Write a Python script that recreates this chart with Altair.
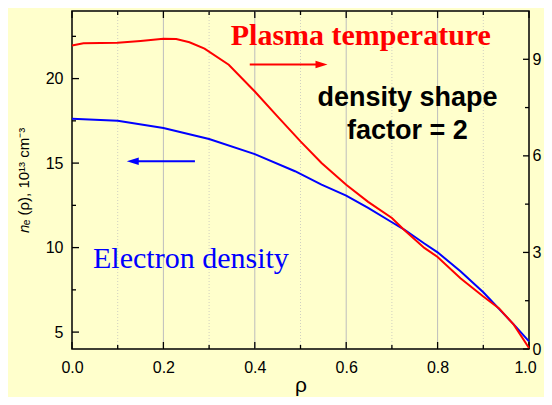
import altair as alt
import pandas as pd

# ---- data ----
rho_temp = [0.0, 0.025, 0.10, 0.15, 0.20, 0.228, 0.257, 0.29, 0.343, 0.40, 0.45, 0.50,
            0.546, 0.60, 0.648, 0.70, 0.727, 0.771, 0.80, 0.85, 0.90, 0.934, 0.967, 1.0]
temp_kev = [9.43, 9.50, 9.51, 9.57, 9.64, 9.63, 9.53, 9.33, 8.83, 8.00, 7.22, 6.45,
            5.78, 5.10, 4.57, 4.07, 3.70, 3.14, 2.86, 2.20, 1.63, 1.27, 0.75, 0.03]

rho_dens = [0.0, 0.10, 0.20, 0.30, 0.40, 0.488, 0.546, 0.60, 0.648, 0.70, 0.727,
            0.771, 0.80, 0.85, 0.90, 0.95, 0.967, 1.0]
dens_1e13 = [17.63, 17.51, 17.08, 16.43, 15.53, 14.52, 13.73, 13.08, 12.35, 11.50, 11.07,
             10.24, 9.72, 8.60, 7.36, 5.93, 5.44, 4.45]

x_major = [0.0, 0.2, 0.4, 0.6, 0.8, 1.0]
x_minor = [0.1, 0.3, 0.5, 0.7, 0.9]
grid_major = [0.2, 0.4, 0.6, 0.8]
yl_major = [5, 10, 15, 20]
yl_minor = [7.5, 12.5, 17.5, 22.5]
yr_major = [0, 3, 6, 9]
yr_minor = [1.5, 4.5, 7.5]

# annotations (rho, left-axis value)
ann_temp = {"x": 0.632, "y": 22.0, "t": "Plasma temperature"}
ann_dens = {"x": 0.046, "y": 8.8, "t": "Electron density"}
ann_shape = {"x": [0.734, 0.734], "y": [18.36, 16.45], "t": ["density shape", "factor = 2"]}
arrow_red = {"x0": 0.389, "x1": 0.546, "y": 20.83}
arrow_blue = {"x0": 0.269, "x1": 0.133, "y": 15.11}

W, H = 457, 338
BG = "#FFFFCC"
SANS = "Liberation Sans"
SERIF = "Liberation Serif"

xs = alt.Scale(domain=[0, 1], nice=False, zero=False)
yls = alt.Scale(domain=[4, 24], nice=False, zero=False)
yrs = alt.Scale(domain=[0, 10.5], nice=False, zero=False)

temp_df = pd.DataFrame({"rho": rho_temp, "T": temp_kev})
dens_df = pd.DataFrame({"rho": rho_dens, "n": dens_1e13})

x_axis = alt.Axis(values=x_major, format=".1f", ticks=False, domain=False, grid=False,
                  labelFontSize=16, labelFont=SANS, labelColor="black", labelPadding=10,
                  labelFlush=False, labelOverlap=False,
                  labelOffset={"condition": {"test": "datum.value == 1", "value": -4}, "value": 0},
                  title="ρ", titleFont=SANS, titleFontSize=21, titleFontWeight="normal",
                  titleColor="black", titleBaseline="alphabetic", titleY=42)


def X(field):
    return alt.X(field, scale=xs, axis=x_axis, title="ρ")


left_axis = alt.Axis(orient="left", values=yl_major, ticks=False, domain=False, grid=False,
                     labelFontSize=16, labelFont=SANS, labelColor="black", labelPadding=9,
                     title="𝑛ₑ (ρ), 10¹³ cm⁻³", titleFont=SANS, titleFontSize=15,
                     titleFontWeight="normal", titleColor="black", titlePadding=14)

right_axis = alt.Axis(orient="right", values=yr_major, ticks=False, domain=False, grid=False,
                      labelFontSize=16, labelFont=SANS, labelColor="black", labelPadding=3,
                      labelFlush=False, title=None)

grid_maj = alt.Chart(pd.DataFrame({"x": grid_major})).mark_rule(
    color="#BDBDBD", strokeWidth=1).encode(x=X("x:Q"))
grid_min = alt.Chart(pd.DataFrame({"x": x_minor})).mark_rule(
    color="#D0D0C0", strokeWidth=1, strokeDash=[1, 2]).encode(x=X("x:Q"))


def xticks(vals, length, top):
    y0 = 0 if top else H
    y1 = length if top else H - length
    return alt.Chart(pd.DataFrame({"x": vals})).mark_rule(color="black", strokeWidth=1.3).encode(
        x=X("x:Q"), y=alt.value(y0), y2=alt.value(y1))


def yticks(vals, scale, length, right):
    x0 = W if right else 0
    x1 = W - length if right else length
    return alt.Chart(pd.DataFrame({"v": vals})).mark_rule(color="black", strokeWidth=1.3).encode(
        y=alt.Y("v:Q", scale=scale, axis=None), x=alt.value(x0), x2=alt.value(x1))


blue = alt.Chart(dens_df).mark_line(color="#0000FF", strokeWidth=2).encode(
    x=X("rho:Q"),
    y=alt.Y("n:Q", scale=yls, axis=left_axis))

red = alt.Chart(temp_df).mark_line(color="#FF0000", strokeWidth=2).encode(
    x=X("rho:Q"),
    y=alt.Y("T:Q", scale=yrs, axis=right_axis))

t_temp = alt.Chart(pd.DataFrame([ann_temp])).mark_text(
    font=SERIF, fontSize=30, fontWeight="bold", color="#FF0000", align="center",
    baseline="alphabetic").encode(x=X("x:Q"),
                                  y=alt.Y("y:Q", scale=yls, axis=None), text="t:N")
t_dens = alt.Chart(pd.DataFrame([ann_dens])).mark_text(
    font=SERIF, fontSize=30, color="#0000FF", align="left",
    baseline="alphabetic").encode(x=X("x:Q"),
                                  y=alt.Y("y:Q", scale=yls, axis=None), text="t:N")
t_shape = alt.Chart(pd.DataFrame(ann_shape)).mark_text(
    font=SANS, fontSize=27, fontWeight="bold", color="black", align="center",
    baseline="alphabetic").encode(x=X("x:Q"),
                                  y=alt.Y("y:Q", scale=yls, axis=None), text="t:N")


def arrow(a, color, right):
    df = pd.DataFrame([a])
    shaft = alt.Chart(df).mark_rule(color=color, strokeWidth=2).encode(
        x=X("x0:Q"), x2="x1:Q",
        y=alt.Y("y:Q", scale=yls, axis=None))
    path = "M-1,-0.62L1,0L-1,0.62Z" if right else "M1,-0.62L-1,0L1,0.62Z"
    head = alt.Chart(df).mark_point(shape=path, filled=True, size=144, color=color,
                                    opacity=1, strokeWidth=0).encode(
        x=X("x1:Q"),
        y=alt.Y("y:Q", scale=yls, axis=None))
    return [shaft, head]


layers = [grid_min, grid_maj,
          xticks(x_major, 7, False), xticks(x_minor, 4, False),
          xticks(x_major, 7, True), xticks(x_minor, 4, True),
          yticks(yl_major, yls, 7, False), yticks(yl_minor, yls, 4, False),
          yticks(yr_major, yrs, 6, True), yticks(yr_minor, yrs, 4, True),
          blue, red, t_temp, t_dens, t_shape] + arrow(arrow_red, "#FF0000", True) + \
         arrow(arrow_blue, "#0000FF", False)

chart = alt.layer(*layers).resolve_scale(y="independent").properties(
    width=W, height=H, background=BG,
    padding={"left": 64, "top": 3, "right": 15, "bottom": 48},
    autosize=alt.AutoSizeParams(type="none"),
).configure_view(stroke="black", strokeWidth=1.5, fill=BG)

chart.save("out.html", embed_options={"renderer": "svg", "actions": False})
